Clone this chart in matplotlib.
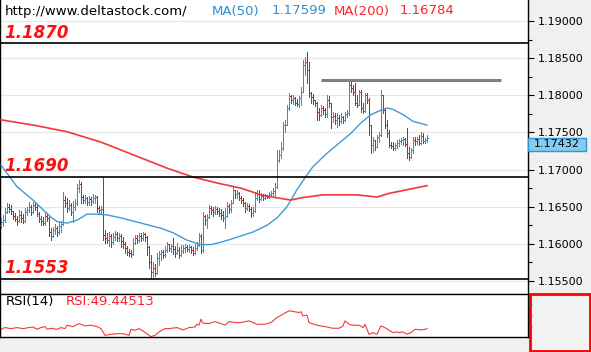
import numpy as np
import matplotlib
matplotlib.use("Agg")
import matplotlib.pyplot as plt
import matplotlib.transforms as mtransforms
from matplotlib.collections import LineCollection
from matplotlib.patches import Rectangle

# price bars (one bar per index, open = previous close)
first_open = 1.1626
closes = [
    1.1630, 1.1632, 1.1643, 1.1650, 1.1647, 1.1644, 1.1638, 1.1633, 1.1631, 1.1639,
    1.1635, 1.1631, 1.1643, 1.1646, 1.1650, 1.1643, 1.1652, 1.1650, 1.1640, 1.1633,
    1.1631, 1.1628, 1.1638, 1.1635, 1.1616, 1.1610, 1.1619, 1.1621, 1.1616, 1.1624,
    1.1627, 1.1659, 1.1655, 1.1648, 1.1652, 1.1643, 1.1650, 1.1655, 1.1675, 1.1681,
    1.1663, 1.1659, 1.1662, 1.1656, 1.1660, 1.1658, 1.1662, 1.1663, 1.1648, 1.1646,
    1.1647, 1.1612, 1.1608, 1.1605, 1.1611, 1.1603, 1.1609, 1.1613, 1.1608, 1.1611,
    1.1604, 1.1600, 1.1594, 1.1589, 1.1588, 1.1586, 1.1601, 1.1608, 1.1605, 1.1611,
    1.1608, 1.1613, 1.1609, 1.1596, 1.1576, 1.1562, 1.1568, 1.1561, 1.1581, 1.1586,
    1.1589, 1.1585, 1.1592, 1.1600, 1.1594, 1.1597, 1.1593, 1.1588, 1.1592, 1.1585,
    1.1590, 1.1594, 1.1596, 1.1593, 1.1596, 1.1592, 1.1588, 1.1594, 1.1598, 1.1611,
    1.1592, 1.1638, 1.1632, 1.1636, 1.1648, 1.1646, 1.1643, 1.1647, 1.1644, 1.1641,
    1.1639, 1.1635, 1.1638, 1.1651, 1.1647, 1.1655, 1.1673, 1.1667, 1.1669, 1.1662,
    1.1659, 1.1655, 1.1648, 1.1651, 1.1647, 1.1641, 1.1644, 1.1662, 1.1667, 1.1660,
    1.1664, 1.1662, 1.1664, 1.1663, 1.1667, 1.1669, 1.1671, 1.1677, 1.1713, 1.1720,
    1.1729, 1.1760, 1.1760, 1.1783, 1.1799, 1.1794, 1.1796, 1.1790, 1.1788, 1.1796,
    1.1804, 1.1841, 1.1845, 1.1834, 1.1803, 1.1798, 1.1794, 1.1790, 1.1778, 1.1774,
    1.1783, 1.1780, 1.1775, 1.1794, 1.1790, 1.1771, 1.1772, 1.1767, 1.1770, 1.1765,
    1.1771, 1.1767, 1.1775, 1.1776, 1.1814, 1.1810, 1.1804, 1.1790, 1.1787, 1.1804,
    1.1783, 1.1779, 1.1800, 1.1794, 1.1760, 1.1733, 1.1740, 1.1730, 1.1744, 1.1747,
    1.1800, 1.1780, 1.1760, 1.1749, 1.1733, 1.1732, 1.1729, 1.1733, 1.1736, 1.1739,
    1.1740, 1.1741, 1.1735, 1.1722, 1.1717, 1.1726, 1.1740, 1.1739, 1.1741, 1.1736,
    1.1745, 1.1739, 1.1740, 1.17432,
]
highs = [
    1.1635, 1.1639, 1.1648, 1.1655, 1.1654, 1.1652, 1.1644, 1.1641, 1.1637, 1.1646,
    1.1644, 1.1640, 1.1648, 1.1650, 1.1656, 1.1652, 1.1656, 1.1656, 1.1652, 1.1643,
    1.1637, 1.1636, 1.1642, 1.1642, 1.1636, 1.1621, 1.1623, 1.1627, 1.1624, 1.1630,
    1.1631, 1.1670, 1.1664, 1.1662, 1.1659, 1.1655, 1.1658, 1.1661, 1.1681, 1.1686,
    1.1683, 1.1666, 1.1666, 1.1663, 1.1664, 1.1663, 1.1667, 1.1666, 1.1664, 1.1651,
    1.1651, 1.1690, 1.1619, 1.1615, 1.1616, 1.1613, 1.1615, 1.1617, 1.1616, 1.1615,
    1.1613, 1.1609, 1.1603, 1.1597, 1.1593, 1.1592, 1.1608, 1.1612, 1.1612, 1.1615,
    1.1615, 1.1616, 1.1615, 1.1611, 1.1597, 1.1585, 1.1576, 1.1573, 1.1588, 1.1590,
    1.1592, 1.1592, 1.1597, 1.1603, 1.1600, 1.1600, 1.1608, 1.1597, 1.1601, 1.1596,
    1.1598, 1.1598, 1.1600, 1.1598, 1.1598, 1.1597, 1.1596, 1.1600, 1.1603, 1.1615,
    1.1613, 1.1643, 1.1639, 1.1640, 1.1652, 1.1651, 1.1650, 1.1651, 1.1650, 1.1648,
    1.1647, 1.1644, 1.1648, 1.1656, 1.1654, 1.1659, 1.1677, 1.1673, 1.1673, 1.1670,
    1.1664, 1.1662, 1.1657, 1.1655, 1.1654, 1.1650, 1.1650, 1.1670, 1.1673, 1.1672,
    1.1668, 1.1667, 1.1667, 1.1666, 1.1670, 1.1671, 1.1675, 1.1682, 1.1726, 1.1726,
    1.1737, 1.1764, 1.1767, 1.1787, 1.1803, 1.1801, 1.1800, 1.1798, 1.1795, 1.1799,
    1.1811, 1.1848, 1.1852, 1.1858, 1.1845, 1.1804, 1.1802, 1.1794, 1.1791, 1.1783,
    1.1787, 1.1786, 1.1783, 1.1800, 1.1799, 1.1790, 1.1778, 1.1776, 1.1776, 1.1774,
    1.1776, 1.1772, 1.1778, 1.1780, 1.1821, 1.1818, 1.1814, 1.1816, 1.1800, 1.1807,
    1.1807, 1.1790, 1.1803, 1.1803, 1.1796, 1.1760, 1.1744, 1.1740, 1.1747, 1.1751,
    1.1807, 1.1800, 1.1783, 1.1767, 1.1753, 1.1737, 1.1737, 1.1736, 1.1740, 1.1741,
    1.1743, 1.1744, 1.1743, 1.1756, 1.1730, 1.1729, 1.1744, 1.1744, 1.1744, 1.1747,
    1.1750, 1.1749, 1.1743, 1.1747,
]
lows = [
    1.1622, 1.1624, 1.1630, 1.1641, 1.1643, 1.1640, 1.1634, 1.1631, 1.1625, 1.1630,
    1.1630, 1.1628, 1.1630, 1.1639, 1.1643, 1.1639, 1.1641, 1.1646, 1.1637, 1.1630,
    1.1626, 1.1625, 1.1626, 1.1631, 1.1610, 1.1605, 1.1609, 1.1613, 1.1610, 1.1613,
    1.1616, 1.1625, 1.1650, 1.1643, 1.1646, 1.1639, 1.1630, 1.1646, 1.1652, 1.1670,
    1.1655, 1.1655, 1.1655, 1.1652, 1.1653, 1.1652, 1.1655, 1.1655, 1.1643, 1.1640,
    1.1642, 1.1605, 1.1601, 1.1601, 1.1597, 1.1596, 1.1600, 1.1605, 1.1604, 1.1604,
    1.1596, 1.1594, 1.1588, 1.1585, 1.1584, 1.1582, 1.1585, 1.1600, 1.1601, 1.1603,
    1.1604, 1.1605, 1.1604, 1.1585, 1.1568, 1.1554, 1.1555, 1.1557, 1.1560, 1.1572,
    1.1578, 1.1581, 1.1582, 1.1589, 1.1590, 1.1589, 1.1586, 1.1582, 1.1586, 1.1581,
    1.1584, 1.1588, 1.1589, 1.1590, 1.1589, 1.1588, 1.1585, 1.1586, 1.1592, 1.1597,
    1.1588, 1.1589, 1.1625, 1.1621, 1.1635, 1.1640, 1.1637, 1.1640, 1.1640, 1.1637,
    1.1633, 1.1631, 1.1621, 1.1636, 1.1641, 1.1643, 1.1655, 1.1662, 1.1662, 1.1659,
    1.1655, 1.1651, 1.1643, 1.1646, 1.1644, 1.1636, 1.1637, 1.1643, 1.1659, 1.1656,
    1.1659, 1.1659, 1.1660, 1.1662, 1.1662, 1.1664, 1.1666, 1.1663, 1.1675, 1.1710,
    1.1716, 1.1726, 1.1751, 1.1760, 1.1780, 1.1790, 1.1788, 1.1787, 1.1786, 1.1784,
    1.1787, 1.1804, 1.1827, 1.1817, 1.1798, 1.1790, 1.1788, 1.1786, 1.1767, 1.1767,
    1.1772, 1.1775, 1.1771, 1.1771, 1.1784, 1.1756, 1.1764, 1.1762, 1.1758, 1.1760,
    1.1763, 1.1763, 1.1766, 1.1771, 1.1774, 1.1804, 1.1800, 1.1787, 1.1784, 1.1787,
    1.1777, 1.1776, 1.1777, 1.1790, 1.1747, 1.1722, 1.1724, 1.1726, 1.1730, 1.1737,
    1.1745, 1.1776, 1.1756, 1.1744, 1.1730, 1.1729, 1.1726, 1.1726, 1.1729, 1.1732,
    1.1735, 1.1733, 1.1732, 1.1716, 1.1713, 1.1715, 1.1722, 1.1733, 1.1735, 1.1733,
    1.1734, 1.1736, 1.1736, 1.1737,
]

# moving averages (bar index, value)
ma50_bar = [0, 8, 16, 21, 25, 28, 33, 38, 43, 48, 53, 60, 70, 80, 86, 93, 100, 105,
            111, 118, 126, 133, 138, 143, 148, 152, 156, 163, 171, 175, 180, 185,
            190, 193, 196, 201, 206, 213]
ma50_val = [1.1706, 1.1677, 1.1659, 1.1646, 1.1636, 1.1630, 1.1628, 1.1632, 1.1640,
            1.1640, 1.1639, 1.1635, 1.1628, 1.1621, 1.1615, 1.1605, 1.1599, 1.1599,
            1.1603, 1.1609, 1.1616, 1.1625, 1.1635, 1.1650, 1.1673, 1.1689, 1.1704,
            1.1722, 1.1740, 1.1749, 1.1763, 1.1774, 1.1780, 1.1783, 1.1781, 1.1774,
            1.1765, 1.17599]
ma200_bar = [0, 16, 33, 50, 66, 83, 96, 108, 120, 130, 138, 145, 150, 161, 178, 188,
             194, 213]
ma200_val = [1.1767, 1.1760, 1.1751, 1.1737, 1.1720, 1.1702, 1.1690, 1.1682, 1.1675,
             1.1666, 1.1662, 1.1659, 1.1662, 1.1666, 1.1666, 1.1663, 1.1668, 1.16784]

# RSI(14) (bar index, value)
rsi_bar = [0, 2, 5, 8, 11, 14, 16, 18, 20, 22,
           23, 25, 28, 30, 32, 33, 36, 39, 42, 45,
           48, 50, 52, 55, 58, 61, 64, 65, 67, 69,
           71, 74, 75, 77, 79, 82, 84, 88, 91, 94,
           97, 98, 99, 100, 101, 104, 107, 110, 112, 114,
           117, 120, 124, 128, 132, 135, 138, 141, 144, 147,
           149, 150, 151, 153, 154, 158, 162, 166, 169, 171,
           172, 174, 176, 179, 181, 182, 184, 186, 188, 190,
           192, 194, 196, 198, 199, 201, 203, 205, 207, 210,
           212, 213]
rsi_val = [48.2, 51.2, 49.4, 51.2, 49.4, 51.2, 52.3, 48.2, 51.2, 52.9,
           48.2, 50.0, 48.2, 51.2, 49.4, 55.3, 52.9, 58.2, 54.1, 55.3,
           52.9, 49.4, 37.7, 39.5, 40.6, 40.6, 37.7, 48.2, 46.5, 49.4,
           45.3, 37.7, 35.4, 37.7, 43.6, 49.4, 49.4, 51.2, 47.1, 51.2,
           52.3, 57.0, 55.3, 65.8, 58.8, 58.2, 61.7, 58.2, 55.3, 61.7,
           60.0, 60.0, 62.9, 57.0, 57.0, 60.0, 68.7, 74.6, 80.4, 78.7,
           77.5, 78.7, 71.7, 72.8, 60.0, 55.3, 52.9, 50.0, 50.0, 54.1,
           62.9, 57.0, 55.3, 55.3, 51.2, 57.0, 39.5, 42.4, 39.5, 54.1,
           51.2, 46.5, 42.4, 43.6, 42.4, 43.6, 39.5, 42.4, 48.2, 47.1,
           48.2, 49.44513]

levels = [1.1870, 1.1690, 1.1553]
res_level = 1.1820
res_start, res_end = 160, 250
price_ticks = [1.155, 1.160, 1.165, 1.170, 1.175, 1.180, 1.185, 1.190]

BLUE = "#2a93d8"
RED = "#b22a2e"

fig = plt.figure(figsize=(5.91, 3.52), dpi=100, facecolor="#f0f0f0")
ax = fig.add_axes([0, 59 / 352, 528 / 591, 293 / 352])
axr = fig.add_axes([0, 15 / 352, 528 / 591, 43 / 352])

n = len(closes)
opens = [first_open] + closes[:-1]
segs, cols = [], []
for i in range(n):
    o, c = opens[i], closes[i]
    h = max(highs[i], o, c)
    l = min(lows[i], o, c)
    col = BLUE if c >= o else RED
    segs += [[(i, l), (i, h)], [(i - 0.5, o), (i, o)], [(i, c), (i + 0.5, c)]]
    cols += [col] * 3
ax.add_collection(LineCollection(segs, colors=cols, linewidths=0.7,
                                 antialiaseds=False, zorder=3))

ax.plot(ma50_bar, ma50_val, color="#3d9bd9", lw=1.0, zorder=4)
ax.plot(ma200_bar, ma200_val, color="#f03838", lw=1.2, zorder=4)

for lv in price_ticks:
    ax.axhline(lv, color="#e6e6e6", lw=0.8, zorder=0)
for lv in levels:
    ax.axhline(lv, color="black", lw=1.2, zorder=5)
    ax.annotate(f"{lv:.4f}", xy=(0.008, lv), xycoords=("axes fraction", "data"),
                xytext=(0, 4), textcoords="offset points", va="baseline", ha="left",
                fontsize=12, fontweight="bold", fontstyle="italic", color="#ff1010",
                zorder=6)
ax.hlines(res_level, res_start, res_end, color="#808080", lw=2.2, zorder=5)

ax.set_xlim(-0.5, 263.5)
ax.set_ylim(1.15339, 1.19283)
ax.set_xticks([])
ax.yaxis.tick_right()
ax.set_yticks(price_ticks)
ax.set_yticklabels([f"{t:.5f}" for t in price_ticks])
ax.set_yticks([t + 0.0025 for t in price_ticks[:-1]], minor=True)
ax.tick_params(axis="y", which="major", length=4, width=0.8, labelsize=8, pad=3)
ax.tick_params(axis="y", which="minor", length=3, width=0.8)
for s in ["top", "bottom"]:
    ax.spines[s].set_visible(False)
ax.spines["right"].set_linewidth(1)
ax.spines["left"].set_linewidth(1)

# last price tag on the price scale (hangs just below the last price)
tr = mtransforms.blended_transform_factory(ax.transAxes, ax.transData)
tag_h = 0.00188
ax.add_patch(Rectangle((1.0, closes[-1] - tag_h), 58 / 528, tag_h, transform=tr,
                       fc="#87cbef", ec="#2f96d6", lw=1, clip_on=False, zorder=7))
ax.text(1.0 + 29 / 528, closes[-1] - tag_h / 2, f"{closes[-1]:.5f}", transform=tr,
        va="center", ha="center", fontsize=8, clip_on=False, zorder=8)

# header
fig.text(5 / 591, 1 - 11 / 352, "http://www.deltastock.com/", fontsize=9.5,
         va="center", ha="left", color="black")
fig.text(212 / 591, 1 - 11 / 352, "MA(50)", fontsize=9.5, va="center", color="#2f8fd0")
fig.text(272 / 591, 1 - 11 / 352, f"{ma50_val[-1]:.5f}", fontsize=9.5, va="center",
         color="#2f8fd0")
fig.text(334 / 591, 1 - 11 / 352, "MA(200)", fontsize=9.5, va="center", color="#ff2030")
fig.text(400 / 591, 1 - 11 / 352, f"{ma200_val[-1]:.5f}", fontsize=9.5, va="center",
         color="#ff2030")

# RSI panel
axr.set_facecolor("white")
axr.plot(rsi_bar, rsi_val, color="#f03c3c", lw=0.8)
axr.set_xlim(-0.5, 263.5)
axr.set_ylim(34.8, 109.7)
axr.set_xticks([])
axr.yaxis.tick_right()
axr.set_yticks([52, 73, 92])
axr.set_yticklabels([])
axr.tick_params(axis="y", length=3, width=0.8, color="#606060")
for s in axr.spines.values():
    s.set_linewidth(1)
axr.text(0.01, 0.82, "RSI(14)", transform=axr.transAxes, fontsize=9.5, va="center")
axr.text(66 / 528, 0.82, f"RSI:{rsi_val[-1]:.5f}", transform=axr.transAxes,
         fontsize=9.5, va="center", color="#ff2030")

fig.patches.append(Rectangle((529.5 / 591, 1 / 352), 60.5 / 591, 57 / 352,
                             transform=fig.transFigure, fc="#f2f2f2", ec="#ff0000",
                             lw=2, zorder=-1))

fig.savefig("out.png", dpi=100, facecolor=fig.get_facecolor())
